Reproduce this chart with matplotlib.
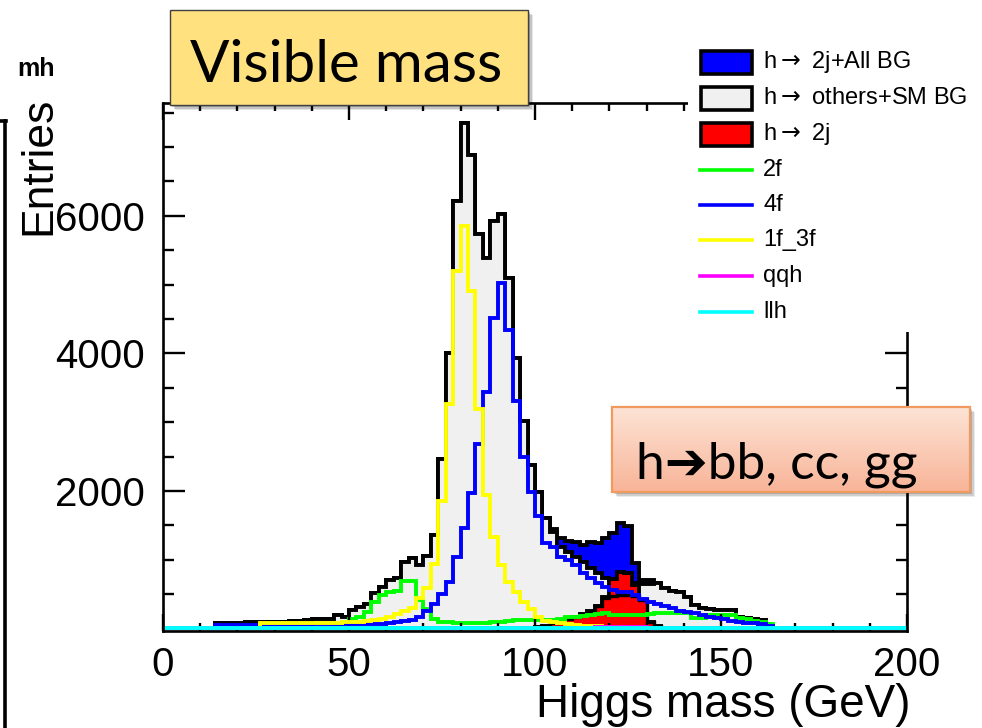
import numpy as np
import matplotlib
matplotlib.use("Agg")
import matplotlib.pyplot as plt
from matplotlib.patches import Rectangle
from matplotlib.lines import Line2D

plt.rcParams['font.family'] = ['Liberation Sans', 'DejaVu Sans']
plt.rcParams['mathtext.fontset'] = 'dejavusans'

# ---------------- data: 2 GeV bins from 0 to 200 GeV ----------------
bin_edges = np.arange(0, 202, 2)

total_all = [0, 0, 0, 0, 0, 0, 0,
             80, 80, 85, 85, 90, 90, 95, 95, 100, 100, 105, 110, 120, 130, 130, 135,
             200, 170, 265, 315, 350, 510, 605, 700, 730, 970, 1020, 920, 1050, 1360, 2470, 4000, 6210,
             7345, 6885, 5730, 5380, 5920, 6020, 5095, 3930, 3015, 2375,
             1990, 1600, 1450, 1320, 1270, 1250, 1220, 1250, 1240, 1310, 1390, 1540, 1490, 950, 703,
             700, 655, 590, 550, 530, 460, 340, 295, 280, 267, 267, 265, 170, 145, 140, 120,
             0, 0, 0, 0, 0, 0, 0, 0, 0, 0, 0, 0, 0, 0, 0, 0, 0, 0, 0]

others_sm_bg = [0, 0, 0, 0, 0, 0, 0,
                80, 80, 85, 85, 90, 90, 95, 95, 100, 100, 105, 110, 120, 130, 130, 135,
                200, 170, 265, 315, 350, 510, 605, 700, 730, 970, 1020, 920, 1050, 1360, 2470, 4000, 6210,
                7345, 6885, 5730, 5380, 5920, 6020, 5095, 3930, 3015, 2375,
                1990, 1600, 1400, 1190, 1115, 1040, 960, 880, 800, 740, 700, 690, 680, 660, 640,
                640, 655, 590, 550, 530, 460, 340, 295, 280, 267, 267, 265, 170, 145, 140, 120,
                0, 0, 0, 0, 0, 0, 0, 0, 0, 0, 0, 0, 0, 0, 0, 0, 0, 0, 0]

h2j = [0] * 50 + [20, 40, 80, 110, 140, 170, 210, 250, 330, 460,
                  720, 820, 800, 630, 420, 90, 30, 10] + [0] * 32

h2j_part = [0] * 52 + [80, 110, 140, 170, 210, 250, 330, 440,
                       470, 490, 490, 470, 420, 90, 30] + [0] * 33

bg_2f = [0] * 23 + [40, 100, 140, 170, 240, 390, 485, 530, 545, 695, 690, 410, 280, 130,
                    100, 90, 80, 80, 75, 80, 85, 90, 95, 110, 120, 120, 125, 125, 120, 120,
                    130, 160, 170, 180, 190, 210, 220, 200, 200, 195, 190, 200, 210, 220,
                    230, 230, 230, 230, 150, 150, 190, 200, 200, 190, 150, 140, 110, 100, 60] + [0] * 18

bg_4f = [0] * 7 + [50, 50, 50, 50, 50, 55, 55, 55, 55, 55, 55, 55, 55, 60,
                   60, 60, 60, 60, 60, 60, 65, 65, 70,
                   80, 90, 105, 125, 170, 250, 360, 500, 670, 1040, 1460, 1975, 2680, 3440,
                   4510, 5020, 4340, 3300, 2490, 1990,
                   1640, 1240, 1180, 1040, 1000, 920, 800, 727, 655, 606, 557, 533, 525, 485,
                   430, 390, 350, 320, 290, 260, 240, 220, 194, 170, 150, 130, 110, 100, 85,
                   75, 60, 40] + [0] * 18

bg_1f3f = [0] * 13 + [75, 75, 75, 75, 75, 75, 75, 78, 80, 82,
                      85, 90, 95, 100, 115, 120, 135, 160, 205, 255, 300, 440, 595, 930, 1850,
                      3260, 5200, 5855, 4900, 3190, 1940, 1333, 921, 670, 533, 388, 280,
                      170, 110, 90, 75, 60, 50, 40, 35, 30, 25, 20, 15, 10, 10, 5] + [0] * 35

sig_qqh = [0] * 56 + [5, 10, 15, 20, 25, 25, 25, 20, 15, 5] + [0] * 34

sig_llh = [0] * 100

legend_labels = [r"h$\rightarrow$ 2j+All BG", r"h$\rightarrow$ others+SM BG", r"h$\rightarrow$ 2j",
                 "2f", "4f", "1f_3f", "qqh", "llh"]

# ---------------- figure ----------------
W, H = 982, 728
fig = plt.figure(figsize=(W / 100, H / 100), dpi=100)


def fx(x):
    return x / W


def fy(y):
    return 1 - y / H


ax = fig.add_axes([fx(163), fy(630.5), (907 - 163) / W, (630.5 - 103) / H])
ax.set_xlim(0, 200)
ax.set_ylim(-30, 7640)

LW = 2.8
kw = dict(joinstyle='miter', capstyle='butt')
ax.stairs(total_all, bin_edges, fill=True, facecolor='#0000ff', edgecolor='black', linewidth=LW, zorder=1, **kw)
ax.stairs(others_sm_bg, bin_edges, fill=True, facecolor='#f0f0f0', edgecolor='black', linewidth=LW, zorder=1.1, **kw)
ax.stairs(h2j, bin_edges, fill=True, facecolor='#ff0000', edgecolor='black', linewidth=LW, zorder=1.2, **kw)
ax.stairs(h2j_part, bin_edges, fill=True, facecolor='#ff0000', edgecolor='black', linewidth=2.4, zorder=1.3, **kw)

line_series = [(bg_2f, '#00ff00'), (bg_4f, '#0000ff'), (bg_1f3f, '#ffff00'),
               (sig_qqh, '#ff00ff'), (sig_llh, '#00ffff')]
for i, (vals, col) in enumerate(line_series):
    ax.stairs(vals, bin_edges, fill=False, edgecolor=col, linewidth=LW, baseline=0,
              zorder=1.5 + 0.1 * i, **kw)

for s in ax.spines.values():
    s.set_linewidth(1.9)
    s.set_zorder(3)

ax.set_xticks([0, 50, 100, 150, 200])
ax.set_xticklabels(['0', '50', '100', '150', '200'])
ax.set_xticks(np.arange(0, 201, 10), minor=True)
ax.set_yticks([0, 2000, 4000, 6000])
ax.set_yticklabels(['', '2000', '4000', '6000'])
ax.set_yticks(np.arange(0, 7600, 500), minor=True)
ax.tick_params(axis='x', which='major', direction='in', top=True, length=12, width=1.7, pad=11, labelsize=29)
ax.tick_params(axis='x', which='minor', direction='in', top=True, length=6, width=1.7)
ax.tick_params(axis='y', which='major', direction='in', right=True, length=16, width=1.7, pad=13, labelsize=29)
ax.tick_params(axis='y', which='minor', direction='in', right=True, length=8, width=1.7)

# axis titles
fig.text(fx(39), fy(166), 'Entries', rotation=90, fontsize=32, ha='center', va='center')
fig.text(fx(910), fy(717), 'Higgs mass (GeV)', fontsize=33, ha='right', va='baseline')
fig.text(fx(17), fy(69), 'mh', fontsize=18, fontweight='bold', ha='left', va='center')

# left slide border fragment
fig.add_artist(Line2D([fx(5), fx(5)], [fy(121), fy(728)], transform=fig.transFigure, color='black', lw=2.6))
fig.add_artist(Line2D([fx(0), fx(6.3)], [fy(121), fy(121)], transform=fig.transFigure, color='black', lw=2.6))

# ---------------- legend (white box) ----------------
def prect(x0, y0, x1, y1, **k):
    r = Rectangle((fx(x0), fy(y1)), (x1 - x0) / W, (y1 - y0) / H, transform=fig.transFigure, **k)
    fig.add_artist(r)
    return r


prect(688, 38, 982, 332, facecolor='white', edgecolor='none', zorder=4)
rows_y = [62, 98, 134, 170, 205, 240, 276, 312]
fills = ['#0000ff', '#f0f0f0', '#ff0000']
for i, lab in enumerate(legend_labels):
    yc = rows_y[i]
    if i < 3:
        prect(701, yc - 11.5, 752, yc + 11.5, facecolor=fills[i], edgecolor='black', lw=2.6, zorder=5)
    else:
        col = line_series[i - 3][1]
        fig.add_artist(Line2D([fx(700), fx(752)], [fy(yc), fy(yc)], transform=fig.transFigure,
                              color=col, lw=2.6, zorder=5))
    fig.text(fx(763), fy(yc), lab, fontsize=17, ha='left', va='center', zorder=6)

# ---------------- "Visible mass" box ----------------
for k, a in enumerate([0.10, 0.14, 0.18]):
    d = 5 - k * 1.5
    prect(170 + d, 10 + d, 528 + d, 105 + d, facecolor='black', edgecolor='none', alpha=a, zorder=6)
prect(170, 10, 528, 105, facecolor='#ffe17f', edgecolor='#404040', lw=1.0, zorder=7)
fig.text(fx(190), fy(82), 'Visible mass', fontsize=42, family=['Lato', 'DejaVu Sans'],
         ha='left', va='baseline', zorder=8)

# ---------------- "h->bb, cc, gg" box ----------------
for k, a in enumerate([0.08, 0.12, 0.16]):
    d = 5 - k * 1.5
    prect(612 + d, 407 + d, 970 + d, 492 + d, facecolor='black', edgecolor='none', alpha=a, zorder=6)
gax = fig.add_axes([fx(612), fy(492), (970 - 612) / W, (492 - 407) / H], zorder=7)
top_c = np.array([253, 228, 214]) / 255
bot_c = np.array([248, 180, 152]) / 255
t = np.linspace(0, 1, 64)[:, None, None]
grad = top_c[None, None, :] * (1 - t) + bot_c[None, None, :] * t
gax.imshow(np.repeat(grad, 4, axis=1), aspect='auto', extent=[0, 1, 0, 1], origin='upper')
gax.set_xlim(0, 1)
gax.set_ylim(0, 1)
gax.set_axis_off()
gax.add_patch(Rectangle((0, 0), 1, 1, transform=gax.transAxes, facecolor='none',
                        edgecolor='#f09a60', lw=1.6, clip_on=False))
fig.text(fx(636), fy(478), 'h\u2794bb, cc, gg', fontsize=37, family=['Lato', 'DejaVu Sans'],
         ha='left', va='baseline', zorder=9)

fig.savefig('out.png', dpi=100)
